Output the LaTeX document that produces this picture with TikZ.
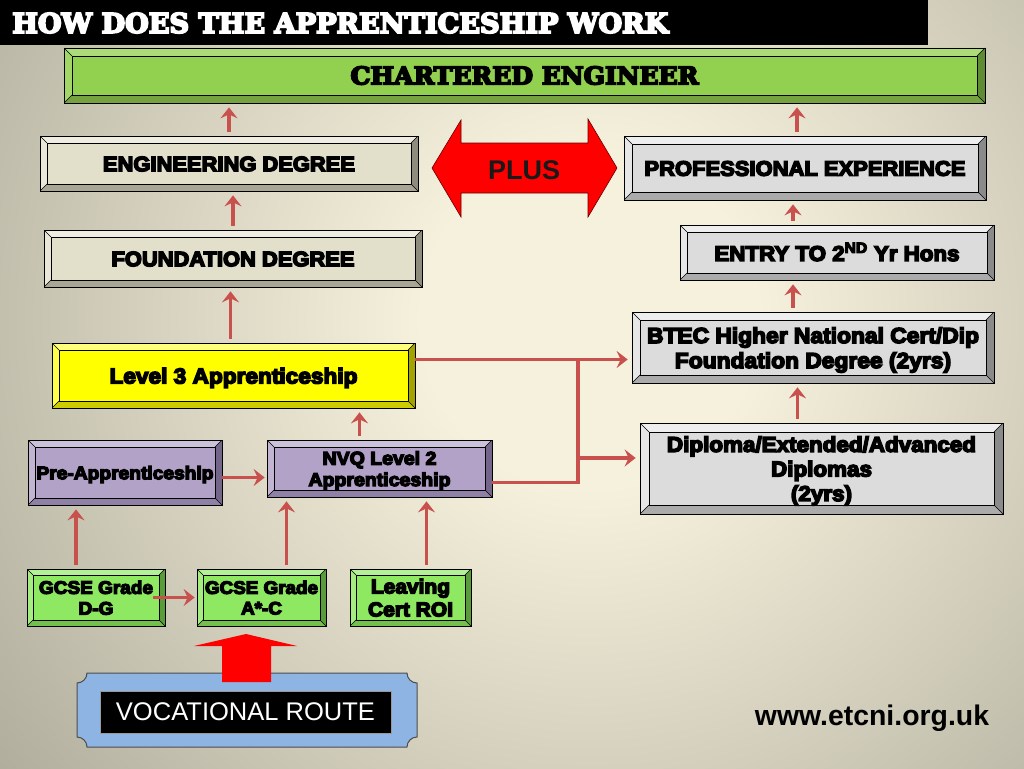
\documentclass[tikz,border=0pt]{standalone}
\usepackage{fontspec}
\usepackage{graphicx}
\usetikzlibrary{arrows.meta}
\setmainfont{Liberation Sans}
\newfontfamily\heavy[FakeBold=7,FakeStretch=1.05]{Liberation Sans Bold}
\newfontfamily\slab[FakeBold=7]{DejaVu Serif Bold}
\definecolor{bgin}{HTML}{F6F1DC}
\definecolor{bgout}{HTML}{8A887A}
\pgfdeclareradialshading{bgshade}{\pgfpoint{0bp}{0bp}}{color(0bp)=(bgin); color(3bp)=(bgin); color(19bp)=(bgout); color(50bp)=(bgout)}
\definecolor{arrred}{HTML}{C8504D}
\definecolor{chf}{HTML}{92D050}\definecolor{chl}{HTML}{ADDB78}\definecolor{chd}{HTML}{5F8C32}\definecolor{chb}{HTML}{76A340}
\definecolor{bef}{HTML}{E2DFCB}\definecolor{bel}{HTML}{EFEDE2}\definecolor{bed}{HTML}{8E8C7C}\definecolor{beb}{HTML}{A9A693}
\definecolor{grf}{HTML}{DCDCDC}\definecolor{grl}{HTML}{EEEEEE}\definecolor{grd}{HTML}{8A8A8A}\definecolor{grb}{HTML}{ABABAB}
\definecolor{yef}{HTML}{FFFF00}\definecolor{yel}{HTML}{FFFF7A}\definecolor{yed}{HTML}{A3A300}\definecolor{yeb}{HTML}{CCCC00}
\definecolor{puf}{HTML}{B3A2C7}\definecolor{pul}{HTML}{CCC1DA}\definecolor{pud}{HTML}{74668A}\definecolor{pub}{HTML}{8F80A6}
\definecolor{lgf}{HTML}{8EE862}\definecolor{lgl}{HTML}{B4F096}\definecolor{lgd}{HTML}{5A9C3A}\definecolor{lgb}{HTML}{74C04C}
\definecolor{plaque}{HTML}{8DB4E2}
\newcommand\tw[2]{\resizebox{#1pt}{!}{\raisebox{-2.8pt}[\height][\depth]{\begin{tabular}{@{}c@{}}#2\end{tabular}}}}
\tikzset{
  bevel/.style n args={5}{draw=black, line width=0.7pt, fill=#1, inner sep=0pt,
    font=\heavy\fontsize{20}{23}\selectfont,
    path picture={
      \coordinate (bNW) at (path picture bounding box.north west);
      \coordinate (bNE) at (path picture bounding box.north east);
      \coordinate (bSW) at (path picture bounding box.south west);
      \coordinate (bSE) at (path picture bounding box.south east);
      \coordinate (iNW) at ([shift={(#5,-#5)}]bNW);
      \coordinate (iNE) at ([shift={(-#5,-#5)}]bNE);
      \coordinate (iSW) at ([shift={(#5,#5)}]bSW);
      \coordinate (iSE) at ([shift={(-#5,#5)}]bSE);
      \fill[#2] (bNW) -- (bNE) -- (iNE) -- (iNW) -- cycle;
      \fill[#2!60!#1] (bNW) -- (iNW) -- (iSW) -- (bSW) -- cycle;
      \fill[#3] (bNE) -- (bSE) -- (iSE) -- (iNE) -- cycle;
      \fill[#4] (bSW) -- (iSW) -- (iSE) -- (bSE) -- cycle;
      \draw[line width=0.6pt] (iNW) rectangle (iSE);
      \draw[line width=0.5pt] (bNW) -- (iNW) (bNE) -- (iNE) (bSW) -- (iSW) (bSE) -- (iSE);
    }},
  conn/.style={draw=arrred, line width=3.5pt, -{Stealth[length=11pt,width=17pt,inset=4pt]}, shorten <=4pt, shorten >=4pt},
  connline/.style={draw=arrred, line width=3.5pt},
}
\begin{document}
\begin{tikzpicture}[x=1pt,y=-1pt]
\useasboundingbox (0,0) rectangle (1024,768);
\begin{scope}
\clip (0,0) rectangle (1024,768);
\shade[shading=bgshade] (590,320) circle (1400pt);
\end{scope}
% title bar
\fill[black] (0,0) rectangle (928,45);
\node[anchor=west, text=white, inner sep=0pt] (title) at (12,23) {\resizebox{656pt}{20pt}{\slab HOW DOES THE APPRENTICESHIP WORK}};
% boxes
\node[bevel={chf}{chl}{chd}{chb}{8pt}, minimum width=921pt, minimum height=55pt] (chart) at (524.5,75.5) {\raisebox{-1.5pt}{\resizebox{348pt}{18pt}{\slab CHARTERED ENGINEER}}};
\node[bevel={bef}{bel}{bed}{beb}{7pt}, minimum width=378pt, minimum height=55pt] (eng) at (229,163.5) {\tw{252}{ENGINEERING DEGREE}};
\node[bevel={bef}{bel}{bed}{beb}{7pt}, minimum width=378pt, minimum height=57pt] (found) at (233,258.5) {\tw{243}{FOUNDATION DEGREE}};
\node[bevel={yef}{yel}{yed}{yeb}{7pt}, minimum width=363pt, minimum height=65pt] (l3) at (233.5,375.5) {\tw{248}{Level 3 Apprenticeship}};
\node[bevel={puf}{pul}{pud}{pub}{7pt}, minimum width=194pt, minimum height=65pt] (pre) at (125,472.5) {\tw{177}{Pre-Apprenticeship}};
\node[bevel={puf}{pul}{pud}{pub}{7pt}, minimum width=225pt, minimum height=57pt] (nvq) at (379.5,468.5) {\tw{142}{NVQ Level 2\\Apprenticeship}};
\node[bevel={lgf}{lgl}{lgd}{lgb}{6pt}, minimum width=138pt, minimum height=57pt] (dg) at (96,597.5) {\tw{114}{GCSE Grade\\D-G}};
\node[bevel={lgf}{lgl}{lgd}{lgb}{6pt}, minimum width=129pt, minimum height=57pt] (ac) at (261.5,597.5) {\tw{113}{GCSE Grade\\A*-C}};
\node[bevel={lgf}{lgl}{lgd}{lgb}{6pt}, minimum width=121pt, minimum height=57pt] (roi) at (410.5,597.5) {\tw{85}{Leaving\\Cert ROI}};
\node[bevel={grf}{grl}{grd}{grb}{8pt}, minimum width=362pt, minimum height=64pt] (prof) at (805,168) {\tw{321}{PROFESSIONAL EXPERIENCE}};
\node[bevel={grf}{grl}{grd}{grb}{7pt}, minimum width=314pt, minimum height=55pt] (entry) at (837,252.5) {\tw{245}{ENTRY TO 2\textsuperscript{ND} Yr Hons}};
\node[bevel={grf}{grl}{grd}{grb}{8pt}, minimum width=362pt, minimum height=71pt] (btec) at (813,347.5) {\tw{332}{BTEC Higher National Cert/Dip\\Foundation Degree (2yrs)}};
\node[bevel={grf}{grl}{grd}{grb}{9pt}, minimum width=363pt, minimum height=91pt] (dip) at (821.5,468.5) {\tw{309}{Diploma/Extended/Advanced\\Diplomas\\(2yrs)}};
% PLUS double arrow
\filldraw[fill=red, draw=black!60!red, line width=0.6pt] (432,168) -- (461,120) -- (461,143) -- (588,143) -- (588,119) -- (617,168) -- (588,217) -- (588,193) -- (461,193) -- (461,217) -- cycle;
\node[text=black!90, inner sep=0pt] (plus) at (524,170) {\resizebox{72pt}{!}{\bfseries PLUS}};
% connectors
\draw[conn] (eng.north) -- (eng.north |- chart.south);
\draw[conn] (found.north) -- (found.north |- eng.south);
\draw[conn] ([xshift=-3pt]l3.north) -- ([xshift=-3pt]l3.north |- found.south);
\draw[conn] ([xshift=-20pt]nvq.north) -- ([xshift=-20pt]nvq.north |- l3.south);
\draw[conn] ([xshift=-20pt]dg.north) -- ([xshift=-20pt]dg.north |- pre.south);
\draw[conn] ([xshift=25pt]ac.north) -- ([xshift=25pt]ac.north |- nvq.south);
\draw[conn] ([xshift=16pt]roi.north) -- ([xshift=16pt]roi.north |- nvq.south);
\draw[conn, shorten <=0pt, shorten >=2pt] ([xshift=-12pt]dg.east) -- (ac.west);
\draw[conn, shorten <=0pt, shorten >=2pt] ([yshift=-5pt]pre.east) -- ([yshift=-5pt]pre.east -| nvq.west);
\coordinate (jtop) at (578,359);
\coordinate (jmid) at (578,458);
\draw[connline] ([yshift=-14pt]nvq.east) -| (jtop);
\draw[conn, shorten <=0pt] ([yshift=16pt]l3.east) -- ([yshift=16pt]l3.east -| btec.west);
\draw[conn, shorten <=0pt] (jmid) -- (jmid -| dip.west);
\draw[conn] ([xshift=-24pt]dip.north) -- ([xshift=-24pt]dip.north |- btec.south);
\draw[conn] ([xshift=-20pt]btec.north) -- ([xshift=-20pt]btec.north |- entry.south);
\draw[conn] ([xshift=-44pt]entry.north) -- ([xshift=-44pt]entry.north |- prof.south);
\draw[conn] ([xshift=-8pt]prof.north) -- ([xshift=-8pt]prof.north |- chart.south);
% vocational route plaque
\filldraw[fill=plaque, draw=black!70, line width=1pt]
  (87,673) -- (407,673) .. controls (407,678.5) and (411.5,683) .. (417,683)
  -- (417,737) .. controls (411.5,737) and (407,741.5) .. (407,747)
  -- (87,747) .. controls (87,741.5) and (82.5,737) .. (77,737)
  -- (77,683) .. controls (82.5,683) and (87,678.5) .. (87,673) -- cycle;
\node[fill=black, draw=black!40, line width=0.5pt, minimum width=291pt, minimum height=42pt, inner sep=0pt, text=white] (voc) at (245.5,712) {\resizebox{259pt}{!}{VOCATIONAL ROUTE}};
\fill[red] (222,682) -- (222,646) -- (194,646) -- (246,634) -- (297,646) -- (271,646) -- (271,682) -- cycle;
% website
\node[inner sep=0pt] (web) at (872,718) {\resizebox{234pt}{!}{\bfseries www.etcni.org.uk}};
\end{tikzpicture}
\end{document}
